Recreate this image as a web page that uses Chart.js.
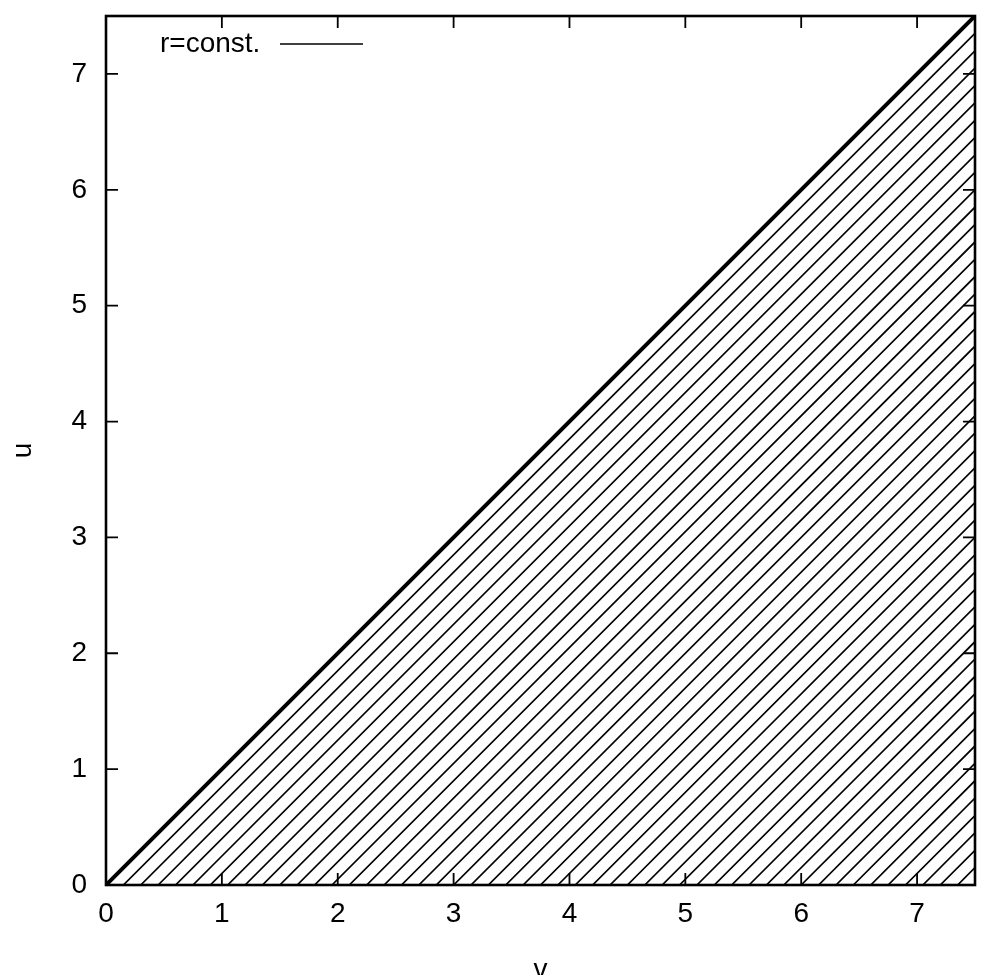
<!DOCTYPE html>
<html>
<head>
<meta charset="utf-8">
<script src="https://cdn.jsdelivr.net/npm/chart.js@4/dist/chart.umd.min.js"></script>
<style>
    html, body { margin: 0; padding: 0; background: #fff; overflow: hidden; }
    #wrap { width: 992px; height: 975px; }
</style>
</head>
<body>
<div id="wrap"><canvas id="chart"></canvas></div>
<script>
// axis range and labelled ticks (same on both axes)
const axisMax = 7.5;
const tickValues = [0, 1, 2, 3, 4, 5, 6, 7];

// the boundary u = v, drawn heavy
const boundaryV = [0, 7.5];
const boundaryU = [0, 7.5];

// r = const. lines: each one is u = v - r, read where it meets u = 0
const rValues = [
    0.15, 0.30, 0.45, 0.60, 0.75, 0.90, 1.05, 1.20, 1.35, 1.50,
    1.65, 1.80, 1.95, 2.10, 2.25, 2.40, 2.55, 2.70, 2.85, 3.00,
    3.15, 3.30, 3.45, 3.60, 3.75, 3.90, 4.05, 4.20, 4.35, 4.50,
    4.65, 4.80, 4.95, 5.10, 5.25, 5.40, 5.55, 5.70, 5.85, 6.00,
    6.15, 6.30, 6.45, 6.60, 6.75, 6.90, 7.05, 7.20, 7.35
];

const legendLabel = "r=const.";
const FONT = "'Liberation Sans', Arial, Helvetica, sans-serif";
const FONT_SIZE = 28;

const datasets = [{
    label: "u=v",
    data: boundaryV.map((v, i) => ({ x: v, y: boundaryU[i] })),
    showLine: true,
    borderColor: "#000",
    borderWidth: 4,
    pointRadius: 0
}];

rValues.forEach(r => {
    datasets.push({
        label: legendLabel,
        data: [{ x: r, y: 0 }, { x: axisMax, y: axisMax - r }],
        showLine: true,
        borderColor: "#000",
        borderWidth: 1.7,
        pointRadius: 0
    });
});

// gnuplot-like frame: border plus inward ticks mirrored on all four sides
const framePlugin = {
    id: "frame",
    afterDatasetsDraw(chart) {
        const { ctx, chartArea: a, scales } = chart;
        const len = 12;
        ctx.save();
        ctx.strokeStyle = "#000";
        ctx.lineWidth = 1.8;
        ctx.beginPath();
        tickValues.forEach(t => {
            const px = scales.x.getPixelForValue(t);
            const py = scales.y.getPixelForValue(t);
            ctx.moveTo(px, a.bottom); ctx.lineTo(px, a.bottom - len);
            ctx.moveTo(px, a.top); ctx.lineTo(px, a.top + len);
            ctx.moveTo(a.left, py); ctx.lineTo(a.left + len, py);
            ctx.moveTo(a.right, py); ctx.lineTo(a.right - len, py);
        });
        ctx.stroke();
        ctx.lineWidth = 2.6;
        ctx.strokeRect(a.left, a.top, a.right - a.left, a.bottom - a.top);

        // key in the top-left corner: text first, then the line sample
        const ky = a.top + 28;
        ctx.fillStyle = "#000";
        ctx.font = FONT_SIZE + "px " + FONT;
        ctx.textAlign = "left";
        ctx.textBaseline = "middle";
        ctx.fillText(legendLabel, a.left + 54, ky);
        ctx.lineWidth = 1.5;
        ctx.beginPath();
        ctx.moveTo(a.left + 174, ky);
        ctx.lineTo(a.left + 257, ky);
        ctx.stroke();
        ctx.restore();
    }
};

function axisOptions(title, isX) {
    return {
        type: "linear",
        min: 0,
        max: axisMax,
        grid: { display: false, drawTicks: false },
        border: { display: false },
        afterBuildTicks: scale => { scale.ticks = tickValues.map(v => ({ value: v })); },
        afterFit: scale => {
            if (isX) {
                scale.height = 90;
                scale.paddingLeft = 0;
                scale.paddingRight = 0;
            } else {
                scale.width = 106;
                scale.paddingTop = 0;
                scale.paddingBottom = 0;
            }
        },
        ticks: {
            color: "#000",
            padding: isX ? 12 : 19,
            maxRotation: 0,
            autoSkip: false,
            font: { family: FONT, size: FONT_SIZE }
        },
        title: {
            display: true,
            text: title,
            color: "#000",
            font: { family: FONT, size: FONT_SIZE },
            padding: isX ? { top: 0, bottom: -12 } : { top: 6, bottom: 0 }
        }
    };
}

new Chart(document.getElementById("chart"), {
    type: "scatter",
    data: { datasets },
    options: {
        responsive: true,
        maintainAspectRatio: false,
        animation: false,
        layout: { padding: { top: 16, right: 17, left: 0, bottom: 0 } },
        plugins: {
            legend: { display: false },
            tooltip: { enabled: false }
        },
        scales: {
            x: axisOptions("v", true),
            y: axisOptions("u", false)
        }
    },
    plugins: [framePlugin]
});
</script>
</body>
</html>
